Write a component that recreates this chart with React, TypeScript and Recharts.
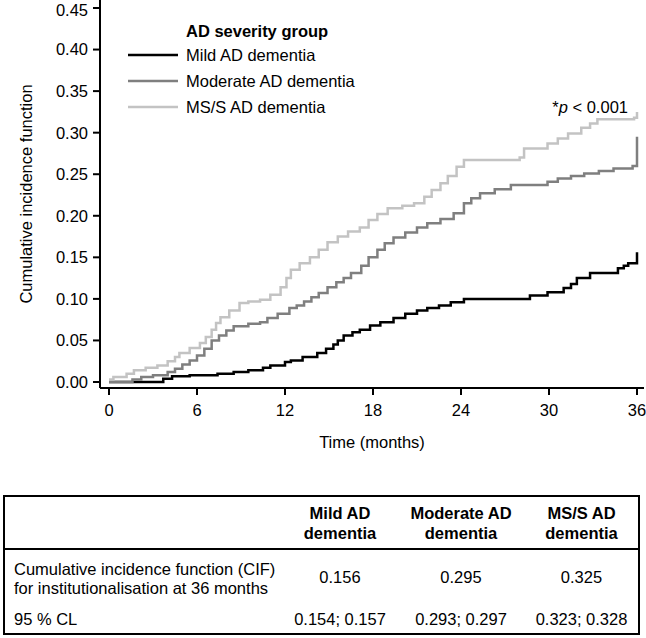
import React from 'react';
import {
  LineChart, Line, XAxis, YAxis, Legend, Label, Customized
} from 'recharts';

// step points (month where the step starts, CIF from there on)
const mildMonths = [0, 3.7, 4.3, 5.5, 7.4, 8.5, 9.5, 10.5, 11, 12, 12.4, 13.2, 14.2, 14.8, 15.3, 15.6, 16, 16.6, 17.1, 17.8, 18.5, 19.4, 20.2, 21, 21.7, 22.5, 23.3, 24.2, 28.7, 29.9, 31, 31.5, 31.9, 32.8, 34.7, 35.1, 35.4, 36];
const mildCif = [0, 0.004, 0.007, 0.008, 0.010, 0.012, 0.014, 0.017, 0.020, 0.024, 0.026, 0.030, 0.035, 0.040, 0.045, 0.050, 0.056, 0.060, 0.063, 0.068, 0.072, 0.077, 0.082, 0.086, 0.089, 0.092, 0.096, 0.100, 0.104, 0.108, 0.113, 0.118, 0.125, 0.131, 0.137, 0.140, 0.143, 0.156];

const moderateMonths = [0, 1.6, 2.2, 3, 4, 4.5, 5, 5.5, 6, 6.5, 7, 7.5, 8, 8.5, 9.5, 10.3, 10.8, 11.5, 12.3, 12.8, 13.3, 13.8, 14.3, 14.9, 15.5, 16, 16.5, 17.2, 17.7, 18.3, 18.8, 19.4, 20.2, 21, 21.7, 22.6, 23.5, 24.2, 24.7, 25.3, 26.3, 27.4, 29.9, 30.6, 31.5, 32.4, 33.4, 34.4, 35.7, 36];
const moderateCif = [0, 0.003, 0.006, 0.008, 0.012, 0.016, 0.021, 0.026, 0.032, 0.040, 0.050, 0.056, 0.062, 0.067, 0.070, 0.072, 0.077, 0.082, 0.089, 0.092, 0.097, 0.102, 0.107, 0.114, 0.120, 0.125, 0.131, 0.140, 0.150, 0.159, 0.167, 0.174, 0.180, 0.186, 0.191, 0.196, 0.203, 0.215, 0.221, 0.227, 0.232, 0.237, 0.241, 0.245, 0.248, 0.251, 0.254, 0.257, 0.260, 0.295];

const severeMonths = [0, 0.3, 1.2, 1.7, 2.5, 3.3, 4, 4.5, 4.8, 5.5, 6.2, 6.6, 7, 7.3, 7.6, 8.2, 8.9, 9.5, 10.3, 11, 11.7, 12.1, 12.4, 13, 13.7, 14.3, 14.9, 15.6, 16.3, 17.1, 17.7, 18.3, 19, 20, 20.8, 21.5, 22, 22.6, 23.1, 23.7, 24.2, 28, 28.3, 29.9, 30.6, 31.3, 32.2, 32.8, 33.3, 35.8, 36];
const severeCif = [0.003, 0.006, 0.010, 0.014, 0.017, 0.020, 0.025, 0.030, 0.035, 0.041, 0.047, 0.054, 0.063, 0.071, 0.078, 0.086, 0.095, 0.097, 0.099, 0.105, 0.114, 0.125, 0.135, 0.143, 0.150, 0.159, 0.168, 0.175, 0.181, 0.186, 0.195, 0.202, 0.209, 0.212, 0.215, 0.223, 0.231, 0.239, 0.248, 0.259, 0.267, 0.270, 0.281, 0.287, 0.293, 0.299, 0.306, 0.311, 0.316, 0.318, 0.325];

const groupNames = ['Mild AD dementia', 'Moderate AD dementia', 'MS/S AD dementia'];
const xTicks = [0, 6, 12, 18, 24, 30, 36];
const yTicks = [0, 0.05, 0.1, 0.15, 0.2, 0.25, 0.3, 0.35, 0.4, 0.45];

// table under the chart
const tableHeaders = [['Mild AD', 'dementia'], ['Moderate AD', 'dementia'], ['MS/S AD', 'dementia']];
const cifAt36 = ['0.156', '0.295', '0.325'];
const confidenceLimits = ['0.154; 0.157', '0.293; 0.297', '0.323; 0.328'];

const FONT = '"Liberation Sans", Arial, Helvetica, sans-serif';
const FS = 16.5;
const COLORS = ['#000000', '#7f7f7f', '#c3c3c3'];

const toRows = (months: number[], cif: number[]) => months.map((m, i) => ({ month: m, cif: cif[i] }));
const seriesData = [
  toRows(mildMonths, mildCif),
  toRows(moderateMonths, moderateCif),
  toRows(severeMonths, severeCif),
];

// legend keeps the group order (recharts sorts the payload by name otherwise)
const LegendBox = () => (
  <div style={{ fontFamily: FONT, fontSize: FS, color: '#000' }}>
    <div style={{ fontWeight: 'bold', lineHeight: '22px', paddingLeft: 58 }}>AD severity group</div>
    {groupNames.map((name, i) => (
      <div key={name} style={{ display: 'flex', alignItems: 'center', height: 26 }}>
        <svg width={50} height={6} style={{ marginRight: 8 }}>
          <line x1={0} y1={3} x2={50} y2={3} stroke={COLORS[i]} strokeWidth={2.5} />
        </svg>
        <span>{name}</span>
      </div>
    ))}
  </div>
);

const YTitle = ({ viewBox }: any) => {
  const cy = viewBox.y + viewBox.height / 2;
  return (
    <text x={26} y={cy} transform={`rotate(-90, 26, ${cy})`} textAnchor="middle" dominantBaseline="central"
      fontFamily={FONT} fontSize={FS} fill="#000">
      Cumulative incidence function
    </text>
  );
};

const PValue = () => (
  <text x={628} y={107} textAnchor="end" dominantBaseline="central" fontFamily={FONT} fontSize={FS} fill="#000">
    <tspan>*</tspan><tspan fontStyle="italic">p</tspan><tspan> &lt; 0.001</tspan>
  </text>
);

const cellStyle: React.CSSProperties = { padding: 0, textAlign: 'center', verticalAlign: 'middle' };

export default function App() {
  return (
    <div style={{ position: 'absolute', left: 0, top: 0, width: 646, height: 638, background: '#fff', fontFamily: FONT }}>
      <LineChart width={646} height={470} margin={{ top: 0, right: 2, bottom: 22, left: 0 }}>
        <XAxis
          dataKey="month"
          type="number"
          domain={[0, 36]}
          ticks={xTicks}
          allowDuplicatedCategory={false}
          padding={{ left: 9, right: 7 }}
          height={60}
          stroke="#000"
          strokeWidth={2}
          tickSize={7}
          tickMargin={9}
          tick={{ fill: '#000', fontSize: FS, fontFamily: FONT }}
        >
          <Label value="Time (months)" position="insideBottom" offset={0}
            style={{ fontSize: FS, fontFamily: FONT, fill: '#000' }} />
        </XAxis>
        <YAxis
          type="number"
          domain={[0, 0.45]}
          ticks={yTicks}
          width={100}
          padding={{ top: 8, bottom: 6 }}
          stroke="#000"
          strokeWidth={2}
          tickSize={7}
          tickMargin={5}
          tickFormatter={(v: number) => v.toFixed(2)}
          tick={{ fill: '#000', fontSize: FS, fontFamily: FONT }}
        >
          <Label content={YTitle} />
        </YAxis>
        <Legend
          layout="vertical"
          align="center"
          verticalAlign="middle"
          content={LegendBox}
          wrapperStyle={{ position: 'absolute', left: 128, top: 20, width: 'auto', height: 'auto' }}
        />
        {seriesData.map((rows, i) => (
          <Line
            key={groupNames[i]}
            name={groupNames[i]}
            data={rows}
            dataKey="cif"
            type="stepAfter"
            stroke={COLORS[i]}
            strokeWidth={2.5}
            dot={false}
            activeDot={false}
            isAnimationActive={false}
          />
        ))}
        <Customized component={PValue} />
      </LineChart>

      <table style={{
        position: 'absolute', left: 3, top: 495, width: 635, borderCollapse: 'collapse',
        border: '2px solid #000', fontSize: FS, fontFamily: FONT, color: '#000', tableLayout: 'fixed'
      }}>
        <colgroup>
          <col style={{ width: 279 }} />
          <col style={{ width: 114 }} />
          <col style={{ width: 128 }} />
          <col style={{ width: 114 }} />
        </colgroup>
        <thead>
          <tr style={{ height: 53, borderBottom: '2px solid #000' }}>
            <th style={cellStyle}></th>
            {tableHeaders.map((h) => (
              <th key={h[0]} style={{ ...cellStyle, lineHeight: '20px' }}>{h[0]}<br />{h[1]}</th>
            ))}
          </tr>
        </thead>
        <tbody>
          <tr style={{ height: 56 }}>
            <td style={{ ...cellStyle, textAlign: 'left', paddingLeft: 9, lineHeight: '19px', paddingTop: 2 }}>
              Cumulative incidence function (CIF)<br />for institutionalisation at 36 months
            </td>
            {cifAt36.map((v) => <td key={v} style={cellStyle}>{v}</td>)}
          </tr>
          <tr style={{ height: 29 }}>
            <td style={{ ...cellStyle, textAlign: 'left', paddingLeft: 9 }}>95 % CL</td>
            {confidenceLimits.map((v) => <td key={v} style={cellStyle}>{v}</td>)}
          </tr>
        </tbody>
      </table>
    </div>
  );
}
